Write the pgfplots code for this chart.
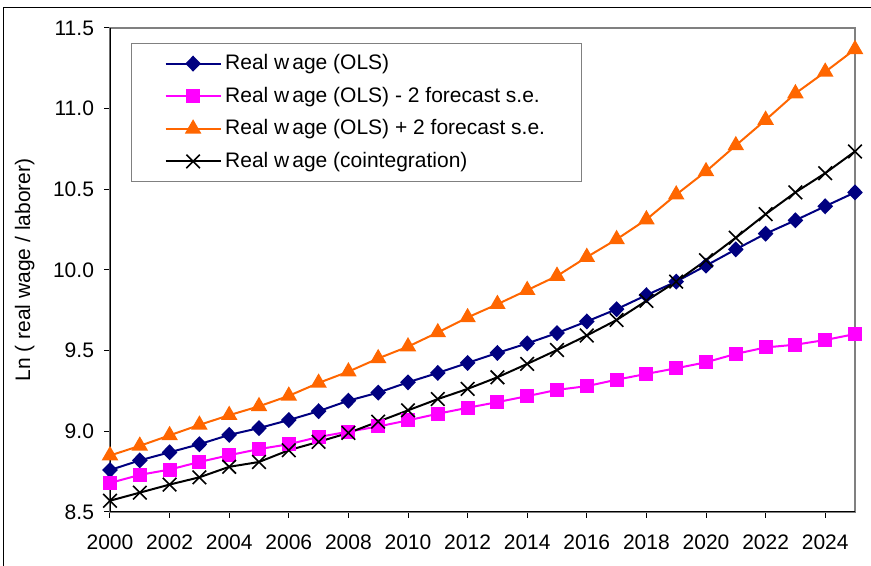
\documentclass[border=0pt]{standalone}
\usepackage{pgfplots}
\pgfplotsset{compat=1.18}
\usepackage{pgfplotstable}
\usepackage{fontspec}
\setmainfont{Liberation Sans}
\definecolor{olsblue}{HTML}{000080}
\definecolor{lowpink}{HTML}{FF00FF}
\definecolor{uporange}{HTML}{FF6600}
\definecolor{framegray}{HTML}{808080}
\pgfplotstableread{
year ols minus plus coint
2000 8.760 8.680 8.850 8.570
2001 8.820 8.730 8.910 8.620
2002 8.870 8.763 8.975 8.670
2003 8.920 8.810 9.040 8.715
2004 8.978 8.852 9.100 8.780
2005 9.020 8.890 9.155 8.810
2006 9.070 8.920 9.220 8.883
2007 9.125 8.965 9.300 8.935
2008 9.190 8.998 9.370 8.990
2009 9.240 9.030 9.452 9.060
2010 9.304 9.068 9.525 9.130
2011 9.362 9.109 9.613 9.200
2012 9.424 9.146 9.706 9.263
2013 9.486 9.181 9.788 9.335
2014 9.545 9.218 9.875 9.418
2015 9.609 9.257 9.963 9.504
2016 9.681 9.280 10.080 9.594
2017 9.757 9.320 10.190 9.690
2018 9.844 9.356 10.313 9.809
2019 9.928 9.391 10.467 9.928
2020 10.027 9.428 10.611 10.060
2021 10.128 9.480 10.772 10.200
2022 10.225 9.520 10.930 10.346
2023 10.308 9.537 11.094 10.481
2024 10.395 9.566 11.228 10.600
2025 10.481 9.603 11.368 10.735
}\wagedata
\begin{document}
\begin{tikzpicture}[font=\fontsize{10.5}{12.6}\selectfont]
\useasboundingbox (-55pt,-27pt) rectangle (380.5pt,256pt);
\draw[black, line width=0.5pt] (-53pt,-27pt) -- (-53pt,252pt) -- (380.5pt,252pt);
\begin{axis}[
  scale only axis,
  width=372.5pt, height=242pt,
  xmin=2000, xmax=2025,
  ymin=8.5, ymax=11.5,
  axis line style={framegray, line width=0.6pt},
  xtick={2000,2002,...,2024},
  ytick={8.5,9.0,...,11.5},
  xtick pos=bottom, ytick pos=left,
  tick align=outside,
  major tick length=3pt,
  tick style={black, line width=0.5pt},
  /pgf/number format/assume math mode=true,
  xticklabel style={/pgf/number format/1000 sep={}, yshift=-5pt},
  yticklabel style={/pgf/number format/fixed, /pgf/number format/fixed zerofill, /pgf/number format/precision=1, xshift=-1.5pt},
  ylabel={Ln ( real wage / laborer)},
  ylabel style={at={(axis description cs:-0.1146,0.5)}, anchor=center},
  legend cell align=left,
  legend style={at={(axis description cs:0.0282,0.9696)}, anchor=north west,
    draw=framegray, line width=0.6pt, inner xsep=16.5pt, inner ysep=3.8pt,
    row sep=3.6pt, nodes={inner sep=1.8pt}},
  legend image code/.code={\draw[mark repeat=2, mark phase=2, #1] plot coordinates {(0pt,0pt) (13.75pt,0pt) (27.5pt,0pt)};},
  every axis plot/.append style={line width=1pt},
]
\addplot[olsblue, mark=diamond*, mark size=3.3pt, mark options={xscale=1.3, solid}] table[x=year, y=ols] {\wagedata};
\addlegendentry{Real w\kern1.5pt age (OLS)}
\addplot[lowpink, mark=square*, mark size=3pt, mark options={solid}] table[x=year, y=minus] {\wagedata};
\addlegendentry{Real w\kern1.5pt age (OLS) - 2 forecast s.e.}
\addplot[uporange, mark=triangle*, mark size=3.8pt, mark options={solid}] table[x=year, y=plus] {\wagedata};
\addlegendentry{Real w\kern1.5pt age (OLS) + 2 forecast s.e.}
\addplot[black, mark=x, mark size=4.8pt, mark options={solid, line width=0.8pt}] table[x=year, y=coint] {\wagedata};
\addlegendentry{Real w\kern1.5pt age (cointegration)}
\draw[black, line width=0.6pt] (rel axis cs:0,1) -- (rel axis cs:0,0) -- (rel axis cs:1,0);
\end{axis}
\end{tikzpicture}
\end{document}
